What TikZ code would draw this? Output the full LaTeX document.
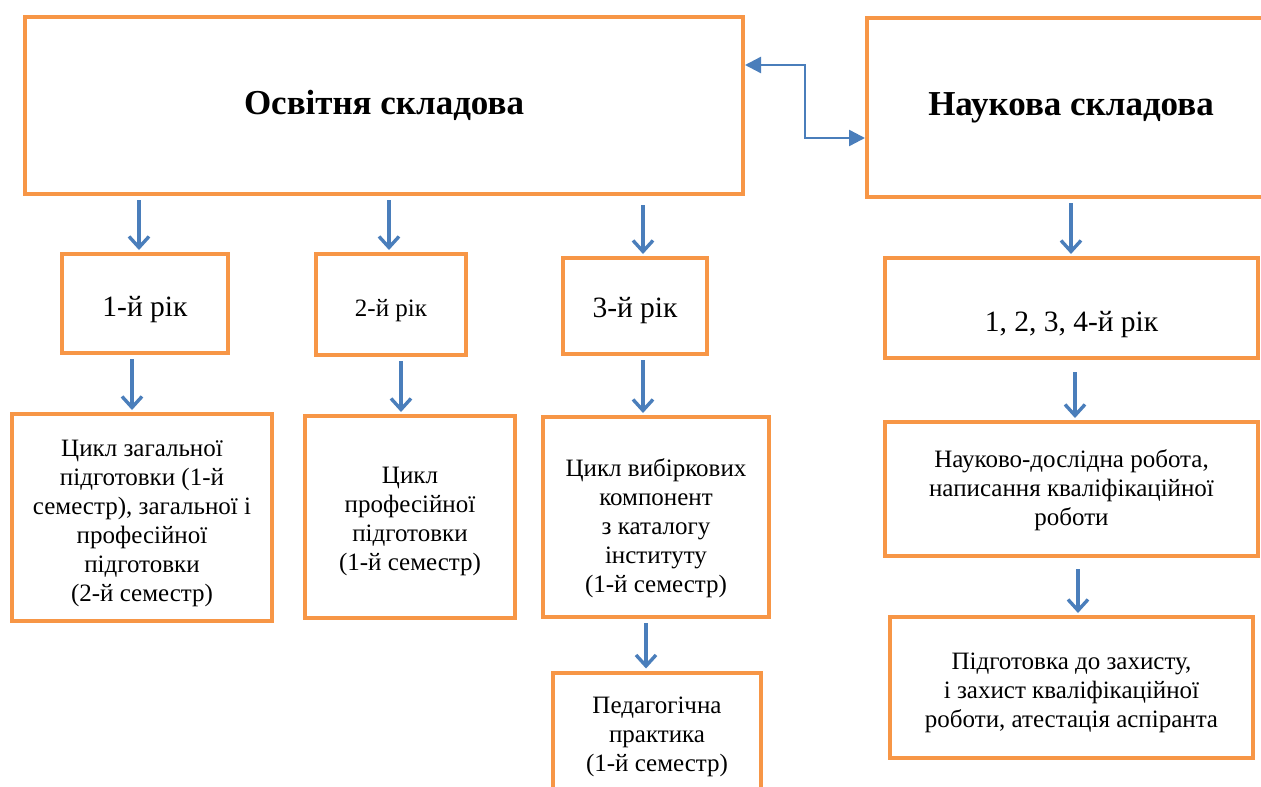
\documentclass[tikz,border=0pt]{standalone}
\usepackage{fontspec}
\setmainfont{Liberation Serif}
\usetikzlibrary{arrows.meta}
\definecolor{BoxOrange}{RGB}{247,150,70}
\definecolor{ArrowBlue}{RGB}{74,126,187}
\newcommand{\topstrut}[1]{\rule{0pt}{#1}}
\newcommand{\botstrut}[1]{\rule[-#1]{0pt}{0pt}}

\begin{document}
\begin{tikzpicture}[
  x=1pt,y=-1pt,
  box/.style={draw=BoxOrange,line width=4pt,fill=white,inner sep=4pt,align=center,
    font=\fontsize{25}{29}\selectfont},
  head/.style={box,font=\fontsize{35}{40}\selectfont\bfseries},
  yearbox/.style={box,font=\fontsize{29.5}{34}\selectfont},
  down/.style={draw=ArrowBlue,line width=3.2pt,shorten <=4pt,shorten >=2pt,
    -{Straight Barb[length=11pt,width=20pt,line width=3.4pt]}},
  link/.style={draw=ArrowBlue,line width=2.4pt,
    {Triangle[length=16pt,width=16pt]}-{Triangle[length=16pt,width=16pt]}}]
\clip (0,0) rectangle (1261,787);
\fill[white] (0,0) rectangle (1261,787);
% top row
\node[head,minimum width=718,minimum height=177] (osv) at (384,105.5) {Освітня складова};
\node[head,minimum width=408,minimum height=179] (nauk) at (1071,107.5) {Наукова складова};
% years
\node[yearbox,minimum width=166,minimum height=99] (yr1) at (145,303.5) {\topstrut{32pt}1-й рік};
\node[yearbox,minimum width=150,minimum height=101,font=\fontsize{25}{29}\selectfont] (yr2) at (391,304.5) {\topstrut{29pt}2-й рік};
\node[yearbox,minimum width=144,minimum height=96] (yr3) at (635,306) {\topstrut{30pt}3-й рік};
\node[yearbox,minimum width=373,minimum height=100] (yrall) at (1071.5,308) {\topstrut{54pt}1, 2, 3, 4-й рік};
% cycles
\node[box,minimum width=260,minimum height=207] (cyc1) at (142,517.5)
  {\topstrut{29pt}Цикл загальної\\підготовки (1-й\\семестр), загальної і\\професійної\\підготовки\\(2-й семестр)};
\node[box,minimum width=210,minimum height=202] (cyc2) at (410,517)
  {\topstrut{26pt}Цикл\\професійної\\підготовки\\(1-й семестр)};
\node[box,minimum width=226,minimum height=200] (cyc3) at (656,517)
  {\topstrut{41pt}Цикл вибіркових\\компонент\\з каталогу\\інституту\\(1-й семестр)};
\node[box,minimum width=208,minimum height=137] (ped) at (657,741)
  {Педагогічна\\практика\\(1-й семестр)\botstrut{13pt}};
\node[box,minimum width=373,minimum height=134] (res) at (1071.5,489)
  {\topstrut{21pt}Науково-дослідна робота,\\написання кваліфікаційної\\роботи};
\node[box,minimum width=363,minimum height=141] (def) at (1071.5,687.5)
  {\topstrut{27pt}Підготовка до захисту,\\ і захист кваліфікаційної\\роботи, атестація аспіранта};
% arrows
\draw[down] (osv.south -| 139,0) -- (yr1.north -| 139,0);
\draw[down] (osv.south -| 389,0) -- (yr2.north -| 389,0);
\draw[down] ([yshift=-5pt]osv.south -| 643,0) -- (yr3.north -| 643,0);
\draw[down] (yr1.south -| 132,0) -- (cyc1.north -| 132,0);
\draw[down] (yr2.south -| 401,0) -- (cyc2.north -| 401,0);
\draw[down] (yr3.south -| 643,0) -- (cyc3.north -| 643,0);
\draw[down] (cyc3.south -| 646,0) -- (ped.north -| 646,0);
\draw[down] (nauk.south -| 1071,0) -- (yrall.north -| 1071,0);
\draw[down] ([yshift=-8pt]yrall.south -| 1075,0) -- (res.north -| 1075,0);
\draw[down] ([yshift=-7pt]res.south -| 1078,0) -- (def.north -| 1078,0);
\draw[link] (osv.east |- 0,65) -| (805,101) |- (nauk.west |- 0,138);
\end{tikzpicture}
\end{document}
